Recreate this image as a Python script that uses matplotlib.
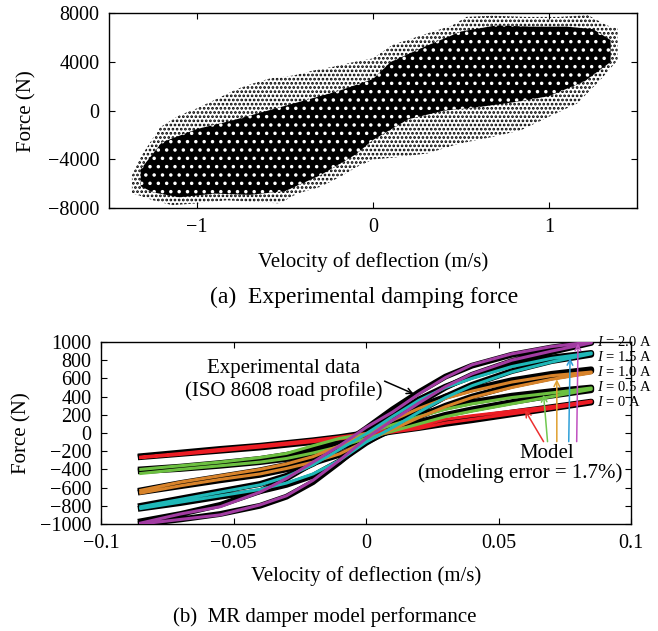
import numpy as np
import matplotlib.pyplot as plt

plt.rcParams['font.family'] = ['Liberation Serif', 'DejaVu Serif']
plt.rcParams['mathtext.fontset'] = 'custom'
plt.rcParams['mathtext.rm'] = 'Liberation Serif'
plt.rcParams['mathtext.it'] = 'Liberation Serif:italic'
plt.rcParams['hatch.linewidth'] = 1.3

# (a) outline of the scatter cloud
cloud_v_up = [-1.37, -1.32, -1.21, -1.10, -1.0, -0.87, -0.77, -0.68, -0.585, -0.45, -0.34,
              -0.23, -0.11, 0.0, 0.11, 0.31, 0.45, 0.53, 0.68, 0.87, 1.06, 1.22, 1.33, 1.39]
cloud_f_up = [-5300, -3800, -1350, -370, 200, 1100, 1800, 2250, 2650, 2900, 3300,
              3600, 4000, 4300, 5400, 6350, 7000, 7700, 7800, 7700, 7700, 7850, 7000, 6750]
cloud_v_lo = [1.39, 1.29, 1.16, 1.0, 0.84, 0.68, 0.49, 0.31, 0.15, 0.0, -0.09, -0.19, -0.30,
              -0.43, -0.53, -0.68, -0.83, -1.0, -1.14, -1.25, -1.34, -1.37]
cloud_f_lo = [4150, 2500, 600, -500, -1600, -2150, -2700, -3500, -3800, -4000, -4600, -5450, -6250,
              -6800, -7600, -7500, -7350, -7600, -7750, -7350, -6900, -6800]

# dense core of the cloud
core_v_up = [-1.32, -1.2, -1.0, -0.8, -0.6, -0.4, -0.2, 0.0, 0.1, 0.3, 0.5, 0.7, 0.9, 1.1, 1.25, 1.35]
core_f_up = [-4800, -2600, -1500, -800, 0, 800, 1600, 2600, 4000, 5300, 6500, 7000, 6900, 6900, 6700, 5800]
core_v_lo = [1.35, 1.2, 1.0, 0.8, 0.6, 0.4, 0.2, 0.0, -0.1, -0.3, -0.5, -0.7, -0.9, -1.1, -1.25, -1.32]
core_f_lo = [4000, 2400, 1200, 700, 300, 0, -700, -2400, -3600, -5300, -6600, -6900, -6800, -7100, -6700, -6200]

# (b) hysteresis loops: upper / lower branches on a common velocity grid
vel = [-0.085, -0.07, -0.055, -0.04, -0.03, -0.02, -0.01, 0.0, 0.01, 0.02, 0.03, 0.04, 0.055, 0.07, 0.085]
currents = ['0', '0.5', '1.0', '1.5', '2.0']

exp_up = [
    [-255, -215, -175, -140, -110, -80, -45, 0, 45, 85, 125, 165, 225, 285, 345],
    [-400, -370, -330, -285, -240, -180, -100, -10, 100, 200, 280, 340, 410, 460, 500],
    [-630, -550, -480, -410, -350, -270, -150, -10, 150, 290, 400, 480, 580, 650, 700],
    [-800, -720, -640, -560, -470, -340, -170, 0, 190, 370, 510, 620, 750, 830, 880],
    [-970, -890, -790, -640, -500, -330, -150, 50, 260, 450, 620, 740, 860, 940, 1000],
]
exp_lo = [
    [-265, -230, -195, -160, -130, -100, -65, -30, 15, 55, 100, 140, 205, 270, 335],
    [-420, -395, -360, -320, -285, -230, -160, -70, 30, 120, 200, 260, 340, 410, 470],
    [-650, -585, -520, -460, -400, -330, -240, -100, 40, 180, 300, 400, 520, 610, 680],
    [-830, -770, -700, -640, -570, -470, -310, -110, 60, 240, 400, 530, 680, 790, 860],
    [-1000, -950, -890, -800, -700, -540, -320, -80, 140, 330, 500, 640, 790, 890, 990],
]
model_up = [
    [-265, -225, -180, -140, -110, -80, -45, -5, 40, 80, 150, 190, 240, 290, 350],
    [-400, -360, -320, -270, -225, -140, -60, -10, 90, 180, 260, 320, 390, 440, 495],
    [-630, -540, -470, -400, -340, -260, -140, -10, 140, 270, 380, 460, 560, 630, 670],
    [-810, -730, -650, -570, -480, -350, -180, -10, 180, 360, 500, 600, 730, 820, 880],
    [-990, -890, -810, -650, -500, -320, -140, 60, 230, 430, 610, 750, 870, 950, 1000],
]
model_lo = [
    [-270, -235, -195, -155, -125, -95, -65, -30, 10, 50, 110, 150, 210, 270, 340],
    [-445, -400, -360, -320, -280, -220, -150, -60, 20, 100, 180, 240, 320, 400, 480],
    [-660, -580, -510, -450, -390, -320, -230, -90, 40, 170, 290, 390, 500, 590, 660],
    [-830, -760, -690, -620, -550, -450, -300, -100, 60, 230, 390, 520, 670, 780, 870],
    [-1000, -950, -900, -790, -690, -520, -300, -60, 140, 330, 510, 650, 800, 900, 990],
]
model_colors = ['#ec1c24', '#6cc040', '#d8832a', '#1fb8b8', '#a23ca2']
arrow_colors = ['#ec3030', '#70c850', '#e0a030', '#2e9fd8', '#c050c0']
arrow_tips = [(0.060, 250), (0.067, 420), (0.072, 590), (0.077, 825), (0.080, 985)]
arrow_tails = [(0.067, -95), (0.0685, -95), (0.072, -95), (0.0765, -95), (0.0795, -95)]
label_y = [340, 505, 670, 835, 1000]

fig = plt.figure(figsize=(6.58, 6.31), dpi=100)
ax1 = fig.add_axes([0.1657, 0.670, 0.8024, 0.309])
ax2 = fig.add_axes([0.1535, 0.1696, 0.8055, 0.2884])

# ---- (a) experimental damping force
ax1.fill(np.concatenate([cloud_v_up, cloud_v_lo]), np.concatenate([cloud_f_up, cloud_f_lo]),
         facecolor='white', edgecolor='black', hatch='....', linewidth=0)
ax1.fill(np.concatenate([core_v_up, core_v_lo]), np.concatenate([core_f_up, core_f_lo]),
         facecolor='black', edgecolor='white', hatch='..', linewidth=0)
ax1.set_xlim(-1.5, 1.5)
ax1.set_ylim(-8000, 8000)
ax1.set_xticks([-1, 0, 1])
ax1.set_xticklabels(['\u22121', '0', '1'])
ax1.set_yticks([-8000, -4000, 0, 4000, 8000])
ax1.set_yticklabels(['\u22128000', '\u22124000', '0', '4000', '8000'])
ax1.set_xlabel('Velocity of deflection (m/s)', fontsize=15, labelpad=11)
ax1.set_ylabel('Force (N)', fontsize=15, labelpad=8)

# ---- (b) model performance
for i in range(len(currents)):
    ax2.plot(vel + vel[::-1], exp_lo[i] + exp_up[i][::-1], color='black', lw=4.2,
             solid_joinstyle='round', zorder=2)
for i in range(len(currents)):
    ax2.plot(vel + vel[::-1], model_lo[i] + model_up[i][::-1], color=model_colors[i], lw=2.2,
             zorder=3)
    ax2.annotate('', xy=arrow_tips[i], xytext=arrow_tails[i],
                 arrowprops=dict(arrowstyle='->', color=arrow_colors[i], lw=1.1,
                                 shrinkA=0, shrinkB=0), zorder=4)
    ax2.text(0.087, label_y[i], '$I$ = %s A' % currents[i], fontsize=10.5,
             ha='left', va='center', zorder=5, clip_on=False)

ax2.text(-0.031, 580, 'Experimental data\n(ISO 8608 road profile)', fontsize=15,
         ha='center', va='center', linespacing=1.2)
ax2.annotate('', xy=(0.018, 430), xytext=(0.007, 570),
             arrowprops=dict(arrowstyle='->', color='black', lw=1.1, shrinkA=0, shrinkB=0))
ax2.text(0.068, -220, 'Model', fontsize=15, ha='center', va='center')
ax2.text(0.058, -440, '(modeling error = 1.7%)', fontsize=15, ha='center', va='center')

ax2.set_xlim(-0.1, 0.1)
ax2.set_ylim(-1000, 1000)
ax2.set_xticks([-0.1, -0.05, 0, 0.05, 0.1])
ax2.set_xticklabels(['\u22120.1', '\u22120.05', '0', '0.05', '0.1'])
yt = list(range(-1000, 1001, 200))
ax2.set_yticks(yt)
ax2.set_yticklabels([('\u2212%d' % -t) if t < 0 else str(t) for t in yt])
ax2.set_xlabel('Velocity of deflection (m/s)', fontsize=15, labelpad=10)
ax2.set_ylabel('Force (N)', fontsize=15, labelpad=6)

for ax in (ax1, ax2):
    ax.tick_params(direction='in', top=True, right=True, length=4, width=0.8,
                   labelsize=14.5, pad=7)
    for s in ax.spines.values():
        s.set_linewidth(1.0)

fig.text(0.553, 1 - 297 / 631, '(a)  Experimental damping force', fontsize=17,
         ha='center', va='center')
fig.text(0.494, 1 - 617 / 631, '(b)  MR damper model performance', fontsize=15,
         ha='center', va='center')

fig.savefig('out.png', dpi=100)
